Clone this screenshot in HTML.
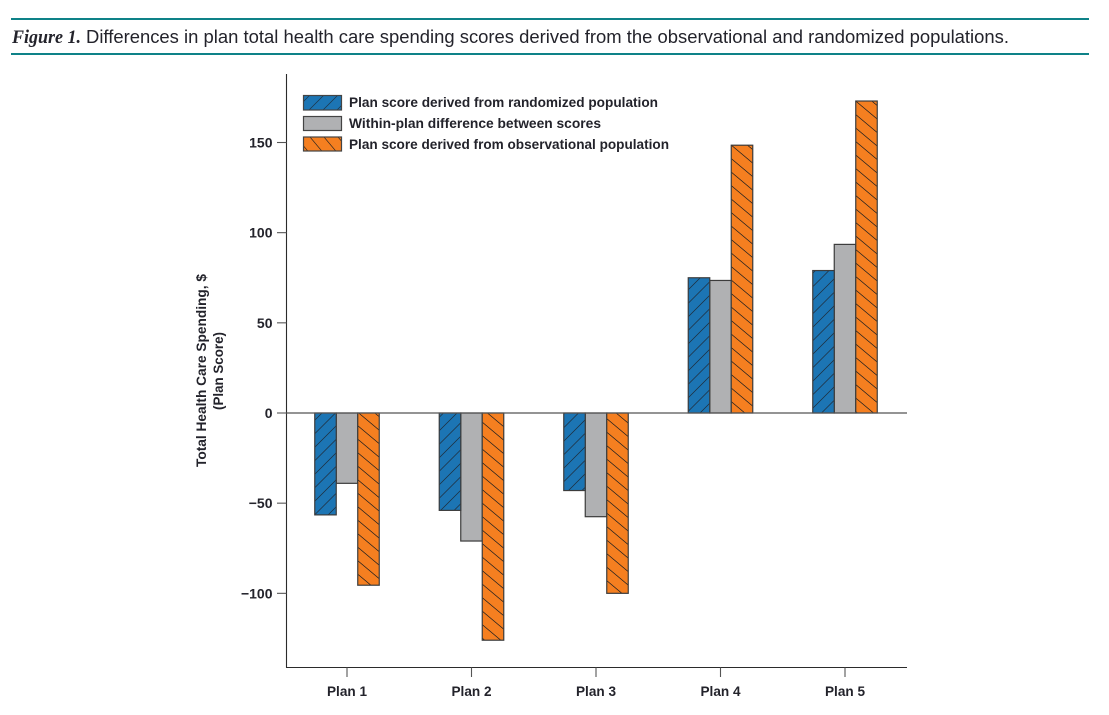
<!DOCTYPE html>
<html>
<head>
<meta charset="utf-8">
<style>
html,body{margin:0;padding:0;background:#fff;}
svg{display:block;}
text{font-family:"Liberation Sans",sans-serif;fill:#23232b;}
</style>
</head>
<body>
<svg id="chart" xmlns="http://www.w3.org/2000/svg" width="1109" height="715" viewBox="0 0 1109 715">
  <defs>
    <pattern id="hatch-blue" patternUnits="userSpaceOnUse" width="14" height="13.5" patternTransform="translate(0 5) skewY(-45)">
      <rect width="14" height="13.5" fill="#1c75b4"/>
      <line x1="0" y1="1" x2="14" y2="1" stroke="#1f2a38" stroke-width="1"/>
    </pattern>
    <pattern id="hatch-orange" patternUnits="userSpaceOnUse" width="14" height="13.5" patternTransform="translate(0 3) skewY(40)">
      <rect width="14" height="13.5" fill="#f57f20"/>
      <line x1="0" y1="1" x2="14" y2="1" stroke="#2a2420" stroke-width="1"/>
    </pattern>
    <pattern id="hatch-blue-legend" patternUnits="userSpaceOnUse" width="14" height="15" patternTransform="translate(303 95) skewX(-45)">
      <rect width="14" height="15" fill="#1c75b4"/>
      <line x1="7" y1="0" x2="7" y2="15" stroke="#1f2a38" stroke-width="0.9"/>
    </pattern>
    <pattern id="hatch-orange-legend" patternUnits="userSpaceOnUse" width="14" height="15" patternTransform="translate(303 137) skewX(40)">
      <rect width="14" height="15" fill="#f57f20"/>
      <line x1="7" y1="0" x2="7" y2="15" stroke="#2a2420" stroke-width="0.9"/>
    </pattern>
  </defs>

  <rect x="11" y="18" width="1078" height="2" fill="#0e8288"/>
  <rect x="11" y="53" width="1078" height="2" fill="#0e8288"/>
  <text x="12" y="43" font-size="19" font-weight="bold" font-style="italic" textLength="69" lengthAdjust="spacingAndGlyphs" style="font-family:'Liberation Serif',serif">Figure 1.</text>
  <text x="86" y="43" font-size="18.5" textLength="923" lengthAdjust="spacingAndGlyphs">Differences in plan total health care spending scores derived from the observational and randomized populations.</text>

  <g id="bars"></g>
  <g id="axes">
    <line x1="286.5" y1="74" x2="286.5" y2="667.5" stroke="#2b2b2b" stroke-width="1.1"/>
    <line x1="286" y1="667.5" x2="907" y2="667.5" stroke="#2b2b2b" stroke-width="1.1"/>
  </g>

  <text transform="translate(206 370.5) rotate(-90)" text-anchor="middle" font-size="14" font-weight="bold" textLength="193" lengthAdjust="spacingAndGlyphs">Total Health Care Spending, $</text>
  <text transform="translate(223 371) rotate(-90)" text-anchor="middle" font-size="14" font-weight="bold" textLength="78" lengthAdjust="spacingAndGlyphs">(Plan Score)</text>

  <g id="legend">
    <g>
      <rect x="303.5" y="95.5" width="38" height="14.5" fill="url(#hatch-blue-legend)" stroke="#444" stroke-width="1.2"/>
      <text x="349" y="107" font-size="14" font-weight="bold" textLength="309" lengthAdjust="spacingAndGlyphs">Plan score derived from randomized population</text>
    </g>
    <g>
      <rect x="303.5" y="116.5" width="38" height="14" fill="#b0b1b3" stroke="#444" stroke-width="1.2"/>
      <text x="349" y="128" font-size="14" font-weight="bold" textLength="252" lengthAdjust="spacingAndGlyphs">Within-plan difference between scores</text>
    </g>
    <g>
      <rect x="303.5" y="137" width="38" height="14" fill="url(#hatch-orange-legend)" stroke="#444" stroke-width="1.2"/>
      <text x="349" y="149" font-size="14" font-weight="bold" textLength="320" lengthAdjust="spacingAndGlyphs">Plan score derived from observational population</text>
    </g>
  </g>
</svg>
<script>
var categories = ["Plan 1", "Plan 2", "Plan 3", "Plan 4", "Plan 5"];
var randomizedScores = [-56.5, -54, -43, 75, 79];
var differenceScores = [-39, -71, -57.5, 73.5, 93.5];
var observationalScores = [-95.5, -126, -100, 148.5, 173];
var yTickValues = [150, 100, 50, 0, -50, -100];
var yTickLabels = ["150", "100", "50", "0", "\u221250", "\u2212100"];

var SVG_NS = "http://www.w3.org/2000/svg";
var barsGroup = document.getElementById("bars");
var axesGroup = document.getElementById("axes");

function yScale(v) { return 413 - v * 1.8033; }
function xCenter(i) { return 347 + i * 124.5; }
var barWidth = 21.5;

function drawSeries(values, offset, fill, seriesName) {
  values.forEach(function (v, i) {
    var top = Math.min(yScale(v), yScale(0));
    var h = Math.abs(yScale(v) - yScale(0));
    var r = document.createElementNS(SVG_NS, "rect");
    r.setAttribute("x", xCenter(i) + offset * barWidth - barWidth / 2);
    r.setAttribute("y", top);
    r.setAttribute("width", barWidth);
    r.setAttribute("height", h);
    r.setAttribute("fill", fill);
    r.setAttribute("stroke", "#3c3c3c");
    r.setAttribute("stroke-width", "1.2");
    
    
    barsGroup.appendChild(r);
  });
}
drawSeries(differenceScores, 0, "#b0b1b3", "difference");
drawSeries(randomizedScores, -1, "url(#hatch-blue)", "randomized");
drawSeries(observationalScores, 1, "url(#hatch-orange)", "observational");

yTickValues.forEach(function (v, i) {
  var y = yScale(v);
  var t = document.createElementNS(SVG_NS, "line");
  t.setAttribute("x1", 277);
  t.setAttribute("x2", 286.5);
  t.setAttribute("y1", y);
  t.setAttribute("y2", y);
  t.setAttribute("stroke", "#555");
  t.setAttribute("stroke-width", "1.1");
  
  
  axesGroup.appendChild(t);
  var l = document.createElementNS(SVG_NS, "text");
  l.setAttribute("x", 272.5);
  l.setAttribute("y", y + 5);
  l.setAttribute("text-anchor", "end");
  l.setAttribute("font-size", "14");
  l.setAttribute("font-weight", "bold");
  
  
  l.textContent = yTickLabels[i];
  axesGroup.appendChild(l);
});

var zeroLine = document.createElementNS(SVG_NS, "line");
zeroLine.setAttribute("x1", 286.5);
zeroLine.setAttribute("x2", 907);
zeroLine.setAttribute("y1", yScale(0));
zeroLine.setAttribute("y2", yScale(0));
zeroLine.setAttribute("stroke", "#555");
zeroLine.setAttribute("stroke-width", "1.2");


axesGroup.appendChild(zeroLine);

categories.forEach(function (c, i) {
  var x = xCenter(i);
  var t = document.createElementNS(SVG_NS, "line");
  t.setAttribute("x1", x);
  t.setAttribute("x2", x);
  t.setAttribute("y1", 667.5);
  t.setAttribute("y2", 677);
  t.setAttribute("stroke", "#555");
  t.setAttribute("stroke-width", "1.1");
  
  
  axesGroup.appendChild(t);
  var l = document.createElementNS(SVG_NS, "text");
  l.setAttribute("x", x);
  l.setAttribute("y", 696);
  l.setAttribute("text-anchor", "middle");
  l.setAttribute("font-size", "14");
  l.setAttribute("font-weight", "bold");
  l.setAttribute("textLength", "40");
  l.setAttribute("lengthAdjust", "spacingAndGlyphs");
  
  
  l.textContent = c;
  axesGroup.appendChild(l);
});
</script>
</body>
</html>
